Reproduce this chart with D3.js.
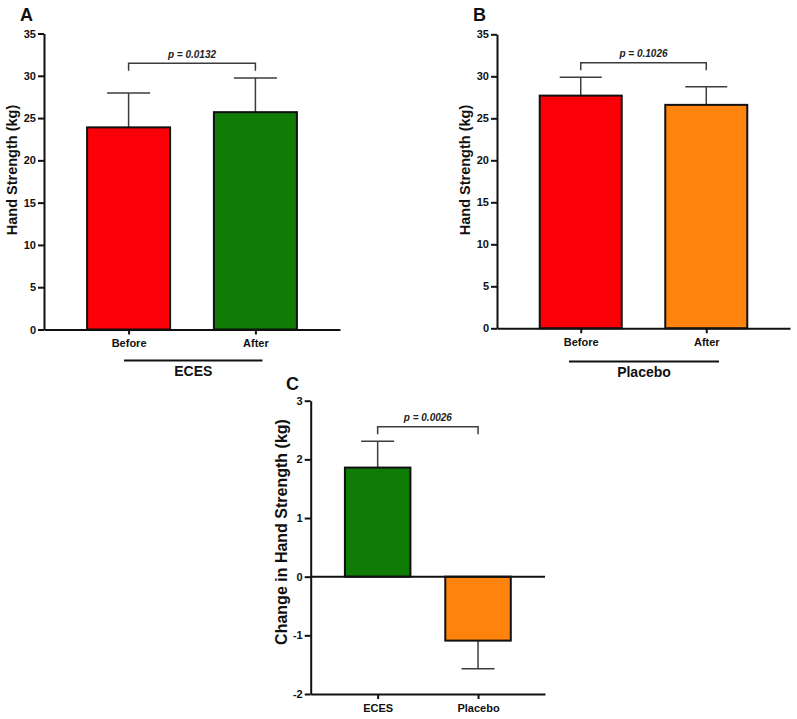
<!DOCTYPE html>
<html>
<head>
<meta charset="utf-8">
<script src="https://cdn.jsdelivr.net/npm/d3@7"></script>
<style>
  body { margin: 0; background: #fff; }
  svg { font-family: "Liberation Sans", Arial, sans-serif; }
</style>
</head>
<body>
<svg id="display"></svg>
<script>
// data
const catsA = ['Before', 'After']
const meanA = [23.9, 25.7]
const errA = [4.05, 4.05]

const catsB = ['Before', 'After']
const meanB = [27.7, 26.6]
const errB = [2.2, 2.15]

const catsC = ['ECES', 'Placebo']
const meanC = [1.86, -1.09]
const errC = [0.45, 0.48]

const ticksAB = [0, 5, 10, 15, 20, 25, 30, 35]
const ticksC = [-2, -1, 0, 1, 2, 3]

const pA = 'p = 0.0132'
const pB = 'p = 0.1026'
const pC = 'p = 0.0026'

const red = '#fb0007'
const green = '#107b05'
const orange = '#fe840e'
const lineGrey = '#3c3c3c'

let svg = d3.select('#display')
width = 797
height = 719
svg.attr('width', width).attr('height', height)

function drawPanel(p) {
  let g = svg.append('g')

  const x = d3.scalePoint()
    .domain(p.cats)
    .range([p.x0, p.x1])
    .padding(0.667)

  const y = d3.scaleLinear()
    .domain(p.domain)
    .range([p.yBottom, p.yTop])

  // bars
  p.cats.forEach((c, i) => {
    let v = p.means[i]
    let cx = x(c)
    let top = Math.min(y(v), y(0))
    let h = Math.abs(y(v) - y(0))
    // error bar
    let end = v >= 0 ? v + p.errs[i] : v - p.errs[i]
    g.append('line')
      .attr('x1', cx).attr('x2', cx)
      .attr('y1', y(v)).attr('y2', y(end))
      .attr('stroke', lineGrey).attr('stroke-width', 1.5)
    g.append('line')
      .attr('x1', cx - p.capW / 2).attr('x2', cx + p.capW / 2)
      .attr('y1', y(end)).attr('y2', y(end))
      .attr('stroke', lineGrey).attr('stroke-width', 1.5)
    g.append('rect')
      .attr('x', cx - p.barW / 2)
      .attr('y', top)
      .attr('width', p.barW)
      .attr('height', h)
      .attr('fill', p.colors[i])
      .attr('stroke', '#111')
      .attr('stroke-width', 2)
  })

  // zero line for panel with negatives
  if (p.domain[0] < 0) {
    g.append('line')
      .attr('x1', p.x0).attr('x2', p.x1)
      .attr('y1', y(0)).attr('y2', y(0))
      .attr('stroke', '#111').attr('stroke-width', 2)
  }

  // y axis (plain hyphen for negatives, like the original)
  const yAxis = d3.axisLeft(y)
    .tickValues(p.ticks)
    .tickFormat(d => String(d))
    .tickSize(6)
    .tickSizeOuter(0)
    .tickPadding(2)
  let ya = g.append('g')
    .attr('transform', 'translate(' + p.x0 + ',0)')
    .call(yAxis)
  ya.selectAll('path, line').attr('stroke', '#111').attr('stroke-width', 2)
  ya.selectAll('text')
    .attr('font-size', 11).attr('font-weight', 'bold').attr('fill', '#111')
    .attr('font-family', '"Liberation Sans", Arial, sans-serif')

  // x axis
  const xAxis = d3.axisBottom(x).tickSize(5).tickSizeOuter(0).tickPadding(5)
  let xa = g.append('g')
    .attr('transform', 'translate(0,' + p.yBottom + ')')
    .call(xAxis)
  xa.selectAll('path, line').attr('stroke', '#111').attr('stroke-width', 2)
  xa.selectAll('text')
    .attr('font-size', 11).attr('font-weight', 'bold').attr('fill', '#111')
    .attr('font-family', '"Liberation Sans", Arial, sans-serif')

  // y title
  g.append('text')
    .attr('transform', 'translate(' + p.titleX + ',' + p.titleY + ') rotate(-90)')
    .attr('text-anchor', 'middle')
    .attr('font-size', p.titleSize)
    .attr('font-weight', 'bold')
    .attr('fill', '#111')
    .text(p.title)

  // panel letter
  g.append('text')
    .attr('x', p.letterX).attr('y', p.letterY)
    .attr('font-size', 18).attr('font-weight', 'bold').attr('fill', '#111')
    .text(p.letter)

  // significance bracket
  let xa1 = x(p.cats[0])
  let xa2 = x(p.cats[1])
  g.append('path')
    .attr('d', 'M' + xa1 + ',' + (p.brY + 7.5) + 'V' + p.brY + 'H' + xa2 + 'V' + (p.brY + 7.5))
    .attr('fill', 'none').attr('stroke', lineGrey).attr('stroke-width', 1.5)
  g.append('text')
    .attr('x', (xa1 + xa2) / 2).attr('y', p.brY - 5.5)
    .attr('text-anchor', 'middle')
    .attr('font-size', 10).attr('font-weight', 'bold').attr('font-style', 'italic')
    .attr('fill', '#222')
    .text(p.pText)

  // group label underneath
  if (p.group) {
    g.append('line')
      .attr('x1', p.group.x1).attr('x2', p.group.x2)
      .attr('y1', p.group.y).attr('y2', p.group.y)
      .attr('stroke', '#111').attr('stroke-width', 1.8)
    g.append('text')
      .attr('x', (p.group.x1 + p.group.x2) / 2).attr('y', p.group.y + 15)
      .attr('text-anchor', 'middle')
      .attr('font-size', 14).attr('font-weight', 'bold').attr('fill', '#111')
      .text(p.group.label)
  }
}

drawPanel({
  cats: catsA, means: meanA, errs: errA, colors: [red, green],
  domain: [0, 35], ticks: ticksAB,
  x0: 44, x1: 340, yTop: 33.5, yBottom: 329.5,
  barW: 83, capW: 43,
  title: 'Hand Strength (kg)', titleX: 17, titleY: 170, titleSize: 14.5,
  letter: 'A', letterX: 20, letterY: 21,
  brY: 63.3, pText: pA,
  group: { label: 'ECES', x1: 124, x2: 262.5, y: 360.5 }
})

drawPanel({
  cats: catsB, means: meanB, errs: errB, colors: [red, orange],
  domain: [0, 35], ticks: ticksAB,
  x0: 497, x1: 790, yTop: 34.3, yBottom: 328.3,
  barW: 82, capW: 42,
  title: 'Hand Strength (kg)', titleX: 470, titleY: 170, titleSize: 14.5,
  letter: 'B', letterX: 473, letterY: 21,
  brY: 62.7, pText: pB,
  group: { label: 'Placebo', x1: 569, x2: 719, y: 361.5 }
})

drawPanel({
  cats: catsC, means: meanC, errs: errC, colors: [green, orange],
  domain: [-2, 3], ticks: ticksC,
  x0: 310.7, x1: 545, yTop: 400.7, yBottom: 694,
  barW: 65.5, capW: 33,
  title: 'Change in Hand Strength (kg)', titleX: 287, titleY: 532, titleSize: 16,
  letter: 'C', letterX: 286, letterY: 390,
  brY: 426.7, pText: pC,
  group: null
})
</script>
</body>
</html>
